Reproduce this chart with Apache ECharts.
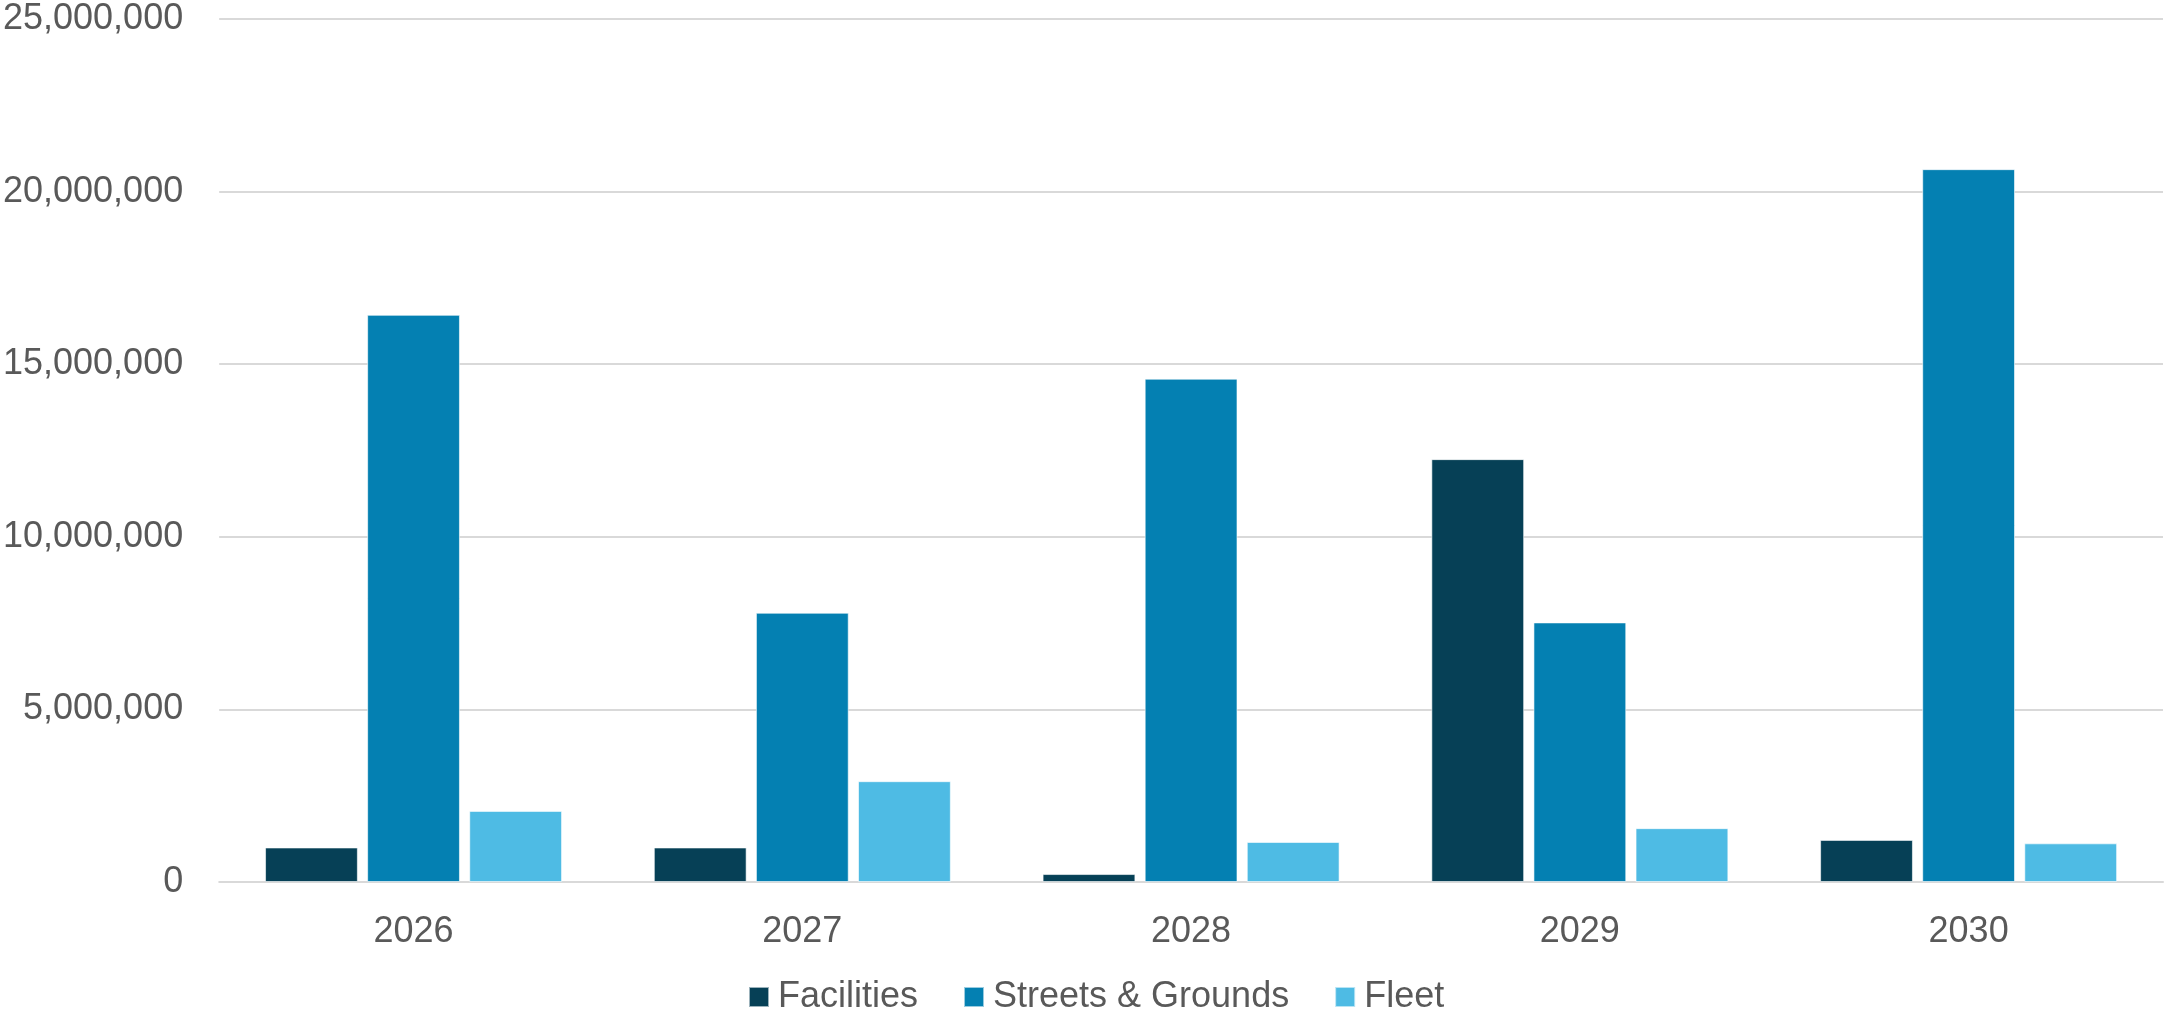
<!DOCTYPE html>
<html>
<head>
<meta charset="utf-8">
<title>Capital Plan by Category, 2026–2030</title>
<script src="https://cdn.jsdelivr.net/npm/echarts@6/dist/echarts.min.js"></script>
<style>
  html, body { margin: 0; padding: 0; background: #ffffff; }
  #chart { width: 2165px; height: 1016px; }
</style>
</head>
<body>
<div id="chart"></div>
<script>
// Fiscal years on the category axis
const years = ['2026', '2027', '2028', '2029', '2030'];

// Planned spending per category (dollars)
const facilities = [1000000, 1000000, 230000, 12250000, 1220000];
const streetsGrounds = [16430000, 7800000, 14580000, 7520000, 20650000];
const fleet = [2060000, 2920000, 1160000, 1560000, 1120000];

// Value axis ticks
const yTicks = [0, 5000000, 10000000, 15000000, 20000000, 25000000];

const seriesNames = ['Facilities', 'Streets & Grounds', 'Fleet'];
const seriesColors = ['#064056', '#0480B2', '#4EBBE4'];

const textColor = '#595959';
const fontFamily = '"Liberation Sans", Arial, sans-serif';

const chart = echarts.init(document.getElementById('chart'), null, { renderer: 'canvas' });

function withCommas(v) {
  return String(Math.round(v)).replace(/\B(?=(\d{3})+(?!\d))/g, ',');
}

function barSeries(name, data, color) {
  return {
    name: name,
    type: 'bar',
    data: data,
    barGap: '10%',
    barCategoryGap: '23.6%',
    itemStyle: { color: color, borderColor: 'rgba(255,255,255,0.6)', borderWidth: 1 },
    emphasis: { disabled: true }
  };
}

chart.setOption({
  animation: false,
  backgroundColor: '#ffffff',
  textStyle: { fontFamily: fontFamily },
  grid: { left: 218, right: 2, top: 19, bottom: 134, containLabel: false },
  legend: {
    data: seriesNames,
    top: 979,
    left: 748,
    padding: 0,
    itemWidth: 20,
    itemHeight: 20,
    itemGap: 45,
    icon: 'rect',
    textStyle: {
      color: textColor,
      fontSize: 36,
      fontFamily: fontFamily,
      lineHeight: 36,
      padding: [0, 0, 0, 4]
    }
  },
  xAxis: {
    type: 'category',
    data: years,
    axisTick: { show: false },
    axisLine: { show: true, lineStyle: { color: '#D9D9D9', width: 2 } },
    axisLabel: {
      color: textColor,
      fontSize: 36,
      fontFamily: fontFamily,
      lineHeight: 36,
      margin: 32
    }
  },
  yAxis: {
    type: 'value',
    min: yTicks[0],
    max: yTicks[yTicks.length - 1],
    interval: yTicks[1] - yTicks[0],
    axisLine: { show: false },
    axisTick: { show: false },
    splitLine: { show: true, lineStyle: { color: '#D9D9D9', width: 2 } },
    axisLabel: {
      color: textColor,
      fontSize: 36,
      fontFamily: fontFamily,
      margin: 36,
      formatter: withCommas
    }
  },
  series: [
    barSeries(seriesNames[0], facilities, seriesColors[0]),
    barSeries(seriesNames[1], streetsGrounds, seriesColors[1]),
    barSeries(seriesNames[2], fleet, seriesColors[2])
  ]
});
</script>
</body>
</html>
